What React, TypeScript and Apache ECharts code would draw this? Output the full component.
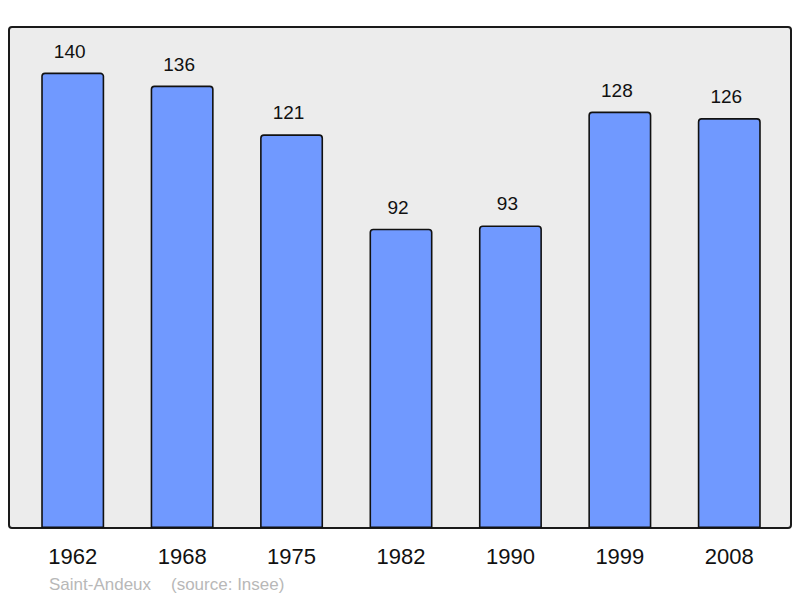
import React, { useEffect, useRef } from "react";
import * as echarts from "echarts";

const years = ["1962", "1968", "1975", "1982", "1990", "1999", "2008"];
const population = [140, 136, 121, 92, 93, 128, 126];
const placeName = "Saint-Andeux";
const sourceNote = "(source: Insee)";

const App: React.FC = () => {
  const chartRef = useRef<HTMLDivElement>(null);

  useEffect(() => {
    document.body.style.margin = "0";
    if (!chartRef.current) return;
    const chart = echarts.init(chartRef.current, undefined, { renderer: "svg" });

    chart.setOption({
      animation: false,
      textStyle: { fontFamily: "Liberation Sans, Arial, sans-serif" },
      graphic: [
        {
          type: "rect",
          z: -10,
          shape: { x: 9, y: 27, width: 782, height: 501, r: 3 },
          style: { fill: "#ececec", stroke: "#1a1a1a", lineWidth: 2 },
        },
        {
          type: "text",
          x: 49,
          y: 584,
          style: {
            text: placeName,
            fill: "#b8b8b8",
            fontSize: 17,
            fontFamily: "Liberation Sans, Arial, sans-serif",
            verticalAlign: "middle",
          },
        },
        {
          type: "text",
          x: 171,
          y: 584,
          style: {
            text: sourceNote,
            fill: "#b8b8b8",
            fontSize: 17,
            fontFamily: "Liberation Sans, Arial, sans-serif",
            verticalAlign: "middle",
          },
        },
      ],
      grid: { left: 18, right: 16, top: 27, bottom: 70 },
      xAxis: {
        type: "category",
        data: years,
        axisLine: { show: false },
        axisTick: { show: false },
        axisLabel: {
          color: "#111",
          fontSize: 22,
          margin: 17,
        },
      },
      yAxis: {
        type: "value",
        min: 0,
        max: 154,
        show: false,
        splitLine: { show: false },
      },
      series: [
        {
          type: "bar",
          data: population,
          barWidth: 63,
          itemStyle: {
            color: "#7099ff",
            borderColor: "#111",
            borderWidth: 1.6,
            borderRadius: [3, 3, 0, 0],
          },
          label: {
            show: true,
            position: "top",
            distance: 12,
            offset: [-3, 0],
            color: "#111",
            fontSize: 19,
          },
        },
      ],
    });

    return () => {
      chart.dispose();
    };
  }, []);

  return <div ref={chartRef} style={{ width: "800px", height: "598px" }} />;
};

export default App;
